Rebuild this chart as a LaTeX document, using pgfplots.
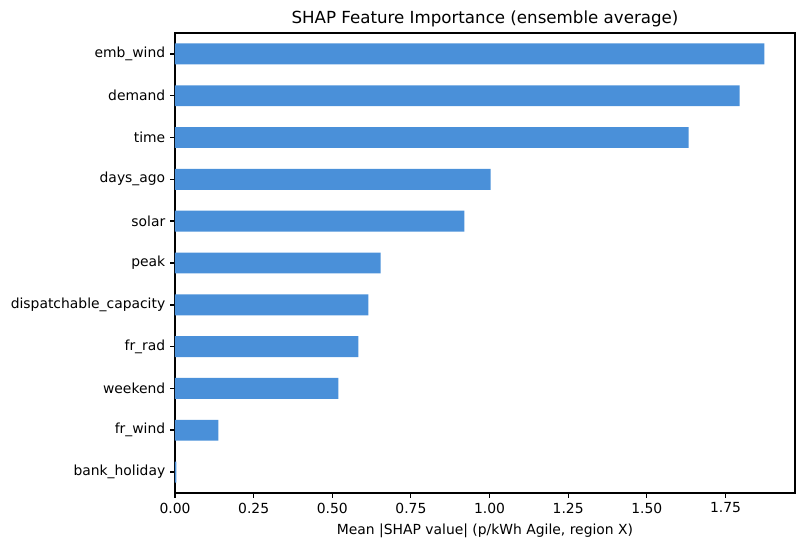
\documentclass[border=0pt]{standalone}
\usepackage{pgfplots}
\pgfplotsset{compat=1.18}
\usepackage{fontspec}
\setmainfont{DejaVu Sans}
\definecolor{barblue}{HTML}{4A90D9}
\begin{document}
\begin{tikzpicture}
\begin{axis}[
  scale only axis,
  width=446.4pt, height=331.2pt,
  xbar,
  bar width=0.5,
  xmin=0, xmax=1.971,
  ymin=-0.5, ymax=10.5,
  ytick={0,1,2,3,4,5,6,7,8,9,10},
  yticklabels={bank\_holiday,fr\_wind,weekend,fr\_rad,dispatchable\_capacity,peak,solar,days\_ago,time,demand,emb\_wind},
  xtick={0,0.25,0.5,0.75,1,1.25,1.5,1.75},
  xticklabel style={/pgf/number format/fixed,/pgf/number format/fixed zerofill,/pgf/number format/precision=2},
  /pgf/number format/assume math mode=true,
  tick label style={font=\fontsize{10}{12}\selectfont},
  xtick pos=bottom, ytick pos=left,
  xtick align=outside,
  ytick align=outside,
  major tick length=3.5pt,
  xtick style={black, line width=0.8pt},
  ytick style={black, line width=1.1pt},
  axis line style={line width=0.8pt},
  title={SHAP Feature Importance (ensemble average)},
  title style={font=\fontsize{12}{14}\selectfont, yshift=-5pt},
  xlabel={Mean |SHAP value| (p/kWh Agile, region X)},
  xlabel style={font=\fontsize{10}{12}\selectfont, yshift=-1pt},
]
\addplot[fill=barblue, draw=none] coordinates {
  (0.004,0) (0.138,1) (0.519,2) (0.583,3) (0.615,4) (0.654,5)
  (0.920,6) (1.003,7) (1.633,8) (1.795,9) (1.874,10)
};
\end{axis}
\useasboundingbox (current axis.south west) ++(-126pt,-39.6pt) rectangle ([shift={(6.48pt,23.76pt)}]current axis.north east);
\end{tikzpicture}
\end{document}
